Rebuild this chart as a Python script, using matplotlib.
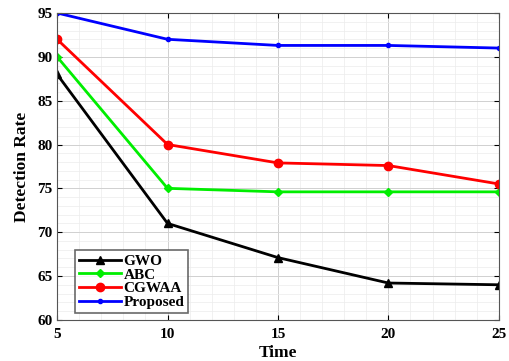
import matplotlib.pyplot as plt
from matplotlib.ticker import MultipleLocator

plt.rcParams['font.family'] = 'Liberation Serif'
plt.rcParams['font.weight'] = 'bold'

time = [5, 10, 15, 20, 25]
gwo = [88, 71, 67.1, 64.2, 64.0]
abc = [90, 75, 74.6, 74.6, 74.6]
cgwaa = [92, 80, 77.9, 77.6, 75.5]
proposed = [95, 92, 91.3, 91.3, 91.0]

fig = plt.figure(figsize=(5.1, 3.61), dpi=100)
ax = fig.add_axes([0.112, 0.114, 0.866, 0.85])

ax.plot(time, gwo, color='black', marker='^', markersize=6, linewidth=2, label='GWO')
ax.plot(time, abc, color='#00ee00', marker='D', markersize=4.5, linewidth=2, label='ABC')
ax.plot(time, cgwaa, color='red', marker='o', markersize=6, linewidth=2, label='CGWAA')
ax.plot(time, proposed, color='blue', marker='.', markersize=6, linewidth=2, label='Proposed')

ax.set_xlim(5, 25)
ax.set_ylim(60, 95)
ax.xaxis.set_major_locator(MultipleLocator(5))
ax.xaxis.set_minor_locator(MultipleLocator(1))
ax.yaxis.set_major_locator(MultipleLocator(5))
ax.yaxis.set_minor_locator(MultipleLocator(1))
ax.grid(which='major', color='#d0d0d0', linewidth=0.7)
ax.grid(which='minor', color='#ececec', linewidth=0.5)
ax.tick_params(which='both', direction='in', top=True, right=True, labelsize=11)
ax.tick_params(axis='x', pad=6)
ax.tick_params(which='minor', length=0)
for s in ax.spines.values():
    s.set_color('#555555')

ax.set_xlabel('Time', fontsize=12.5, fontweight='bold', labelpad=3)
ax.set_ylabel('Detection Rate', fontsize=12.5, fontweight='bold', labelpad=5)

leg = ax.legend(loc='lower left', fontsize=11, frameon=True, fancybox=False,
                edgecolor='#444444', borderpad=0.25, labelspacing=0.0,
                handlelength=2.75, handletextpad=0.2, borderaxespad=0,
                bbox_to_anchor=(0.04, 0.023))
leg.get_frame().set_linewidth(1.2)

plt.savefig('out.png', dpi=100)
